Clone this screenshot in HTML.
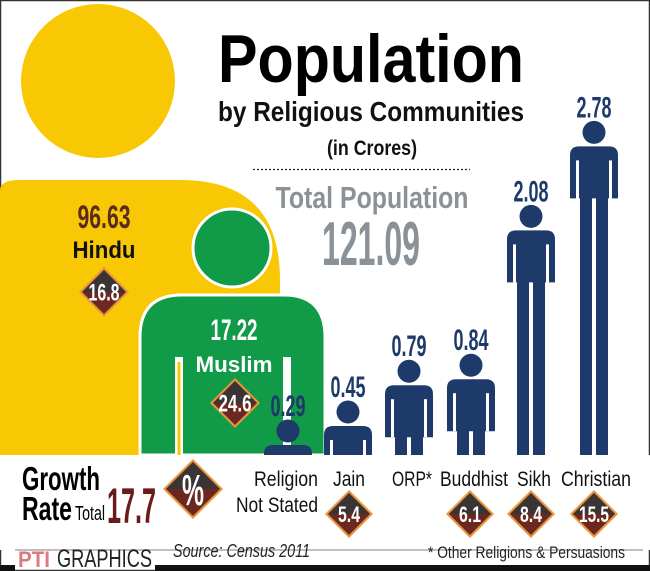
<!DOCTYPE html>
<html><head><meta charset="utf-8"><style>
html,body{margin:0;padding:0;background:#fff}
svg{display:block}
text{font-family:"Liberation Sans Narrow","Liberation Sans",sans-serif}
</style></head><body>
<svg id="chart" width="650" height="571" viewBox="0 0 650 571" xmlns="http://www.w3.org/2000/svg">
  <rect x="0.5" y="0.5" width="649" height="570" fill="#fff" stroke="#333" stroke-width="1.5"/>
  <!-- Hindu figure -->
  <g>
    <circle cx="98" cy="81" r="77" fill="#f9c805"/>
    <path d="M0,190 Q0,180 20,180 L180,180 Q280,180 280,280 L280,455 L0,455 Z" fill="#f9c805"/>
  </g>
  <!-- Muslim figure -->
  <g>
    <circle cx="232" cy="248" r="39" fill="#119a48" stroke="#fff" stroke-width="3"/>
    <path d="M140,455 L140,337 Q140,295 182,295 L284,295 Q325,295 325,337 L325,455 Z" fill="#119a48" stroke="#fff" stroke-width="3"/>
    <rect x="175" y="357" width="8" height="98" fill="#fff"/>
    <rect x="177.5" y="362" width="3" height="93" fill="#f9c805"/>
    <rect x="283" y="357" width="8" height="98" fill="#fff"/>
  </g>
  <g id="people"></g>
  <g>
    <text x="371" y="82" text-anchor="middle" font-size="68" font-weight="bold" textLength="306" lengthAdjust="spacingAndGlyphs" fill="#000">Population</text>
    <text x="371" y="121" text-anchor="middle" font-size="28" font-weight="bold" textLength="306" lengthAdjust="spacingAndGlyphs" fill="#111">by Religious Communities</text>
    <text x="372" y="155" text-anchor="middle" font-size="21" font-weight="bold" textLength="90" lengthAdjust="spacingAndGlyphs" fill="#111">(in Crores)</text>
    <line x1="253" y1="169.5" x2="470" y2="169.5" stroke="#222" stroke-width="1.2" stroke-dasharray="2,2"/>
    <text x="372" y="208" text-anchor="middle" font-size="31" font-weight="bold" textLength="193" lengthAdjust="spacingAndGlyphs" fill="#8a9197">Total Population</text>
    <text x="371" y="265" text-anchor="middle" font-size="62" font-weight="bold" textLength="98" lengthAdjust="spacingAndGlyphs" fill="#8a9197">121.09</text>
  </g>
  <g>
    <text x="104" y="228" text-anchor="middle" font-size="32" font-weight="bold" textLength="53" lengthAdjust="spacingAndGlyphs" fill="#5a2a1e">96.63</text>
    <text x="104" y="258" text-anchor="middle" font-size="24" font-weight="bold" textLength="63" lengthAdjust="spacingAndGlyphs" fill="#111">Hindu</text>
  </g>
  <g>
    <text x="234" y="340" text-anchor="middle" font-size="30" font-weight="bold" textLength="47" lengthAdjust="spacingAndGlyphs" fill="#fff">17.22</text>
    <text x="234" y="372" text-anchor="middle" font-size="22" font-weight="bold" textLength="77" lengthAdjust="spacingAndGlyphs" fill="#fff">Muslim</text>
  </g>
  <rect x="0" y="455" width="650" height="95" fill="#fff"/>
  <g>
    <text x="22" y="490" font-size="33" font-weight="bold" textLength="78" lengthAdjust="spacingAndGlyphs" fill="#000">Growth</text>
    <text x="22" y="520" font-size="33" font-weight="bold" textLength="50" lengthAdjust="spacingAndGlyphs" fill="#000">Rate</text>
    <text x="75" y="520" font-size="20" textLength="30" lengthAdjust="spacingAndGlyphs" fill="#000">Total</text>
    <text x="107" y="523" font-size="50" font-weight="bold" textLength="49" lengthAdjust="spacingAndGlyphs" fill="#6b1a1a">17.7</text>
  </g>
  <g id="diamonds"></g>
  <g id="cat-labels">
    <text x="318" y="486" text-anchor="end" font-size="21" textLength="64" lengthAdjust="spacingAndGlyphs" fill="#111">Religion</text>
    <text x="318" y="512" text-anchor="end" font-size="21" textLength="82" lengthAdjust="spacingAndGlyphs" fill="#111">Not Stated</text>
  </g>
  <line x1="15" y1="550" x2="643" y2="550" stroke="#999" stroke-width="1.2"/>
  <g>
    <text x="18" y="567" font-size="22" font-weight="bold" textLength="32" lengthAdjust="spacingAndGlyphs" fill="#e07a7a">PTI</text>
    <text x="57" y="567" font-size="25" textLength="95" lengthAdjust="spacingAndGlyphs" fill="#222">GRAPHICS</text>
    <text x="173" y="557" font-size="18" font-style="italic" textLength="137" lengthAdjust="spacingAndGlyphs" fill="#222">Source: Census 2011</text>
    <text x="428" y="558" font-size="17" textLength="197" lengthAdjust="spacingAndGlyphs" fill="#222">* Other Religions &amp; Persuasions</text>
  </g>
  <rect x="155" y="565" width="495" height="6" fill="#111"/>
  <rect x="0" y="565" width="15" height="6" fill="#111"/>
</svg>
<script>
const categories = ["Religion Not Stated","Jain","ORP*","Buddhist","Sikh","Christian"];
const populations = [0.29,0.45,0.79,0.84,2.08,2.78];
const popLabels = ["0.29","0.45","0.79","0.84","2.08","2.78"];
const growthRates = ["5.4","6.1","8.4","15.5"];
const growthCats = ["Jain","Buddhist","Sikh","Christian"];
const bigGrowth = ["16.8","24.6"];

const NS="http://www.w3.org/2000/svg";
const base=455;
const xCenter=[288,348,409,471,531,594];
function yScale(v){return base-Math.max(10,120*v-25);}
function mk(tag,attrs,parent){const e=document.createElementNS(NS,tag);for(const k in attrs)e.setAttribute(k,attrs[k]);parent.appendChild(e);return e;}
const people=document.getElementById('people');
const navy="#1d3a6b";
categories.forEach((c,i)=>{
  const cx=xCenter[i], top=yScale(populations[i]);
  const g=mk('g',{},people);
  
  
  const L=cx-24,R=cx+24,armEnd=top+52;
  mk('path',{d:`M${L},${Math.min(armEnd,base)} L${L},${top+9} Q${L},${top} ${L+9},${top} L${R-9},${top} Q${R},${top} ${R},${top+9} L${R},${Math.min(armEnd,base)} Z`,fill:navy},g);
  if(armEnd<base){
    mk('rect',{x:cx-14,y:armEnd-1,width:12,height:base-armEnd+1,fill:navy},g);
    mk('rect',{x:cx+2,y:armEnd-1,width:12,height:base-armEnd+1,fill:navy},g);
  }
  if(top+14<base){
    mk('rect',{x:L+6,y:top+14,width:3,height:Math.min(armEnd,base)-top-14,fill:"#fff"},g);
    mk('rect',{x:R-9,y:top+14,width:3,height:Math.min(armEnd,base)-top-14,fill:"#fff"},g);
  }
  mk('circle',{cx:cx,cy:top-14,r:11.5,fill:navy},g);
  const t=mk('text',{x:cx,y:top-29,'text-anchor':'middle','font-size':30,'font-weight':'bold',fill:navy,textLength:35,lengthAdjust:'spacingAndGlyphs'},g);
  t.textContent=popLabels[i];
  
  
});
// category labels
const labX={"Jain":349,"ORP*":412,"Buddhist":474,"Sikh":534,"Christian":596};
const labW={"Jain":32,"ORP*":40,"Buddhist":68,"Sikh":34,"Christian":70};
const cl=document.getElementById('cat-labels');
categories.slice(1).forEach(c=>{
  const t=mk('text',{x:labX[c],y:486,'text-anchor':'middle','font-size':21,fill:'#111',textLength:labW[c],lengthAdjust:'spacingAndGlyphs'},cl);
  t.textContent=c;
  
  
});
// diamonds
const dg=document.getElementById('diamonds');
function diamond(cx,cy,r,label,fs,w){
  const g=mk('g',{transform:`translate(${cx},${cy})`},dg);
  
  
  mk('polygon',{points:`0,${-r} ${r},0 0,${r} ${-r},0`,fill:'#e9963a'},g);
  const q=r-3;
  mk('polygon',{points:`0,${-q} ${q},0 0,${q} ${-q},0`,fill:'#6a2820'},g);
  mk('polygon',{points:`0,${-q} ${q},0 ${-q},0`,fill:'#3b3434'},g);
  const t=mk('text',{x:0,y:fs*0.36,'text-anchor':'middle','font-size':fs,'font-weight':'bold',fill:'#fff',textLength:w,lengthAdjust:'spacingAndGlyphs'},g);
  t.textContent=label;
}
diamond(104,292,25,bigGrowth[0],24,31);
diamond(235,403,25,bigGrowth[1],24,33);
diamond(193,489,30,"%",44,22);
const dX={"Jain":349,"Buddhist":470,"Sikh":531,"Christian":594};
growthCats.forEach((c,i)=>{diamond(dX[c],514,24,growthRates[i],22,growthRates[i].length>3?30:22);});
</script>
</body></html>
